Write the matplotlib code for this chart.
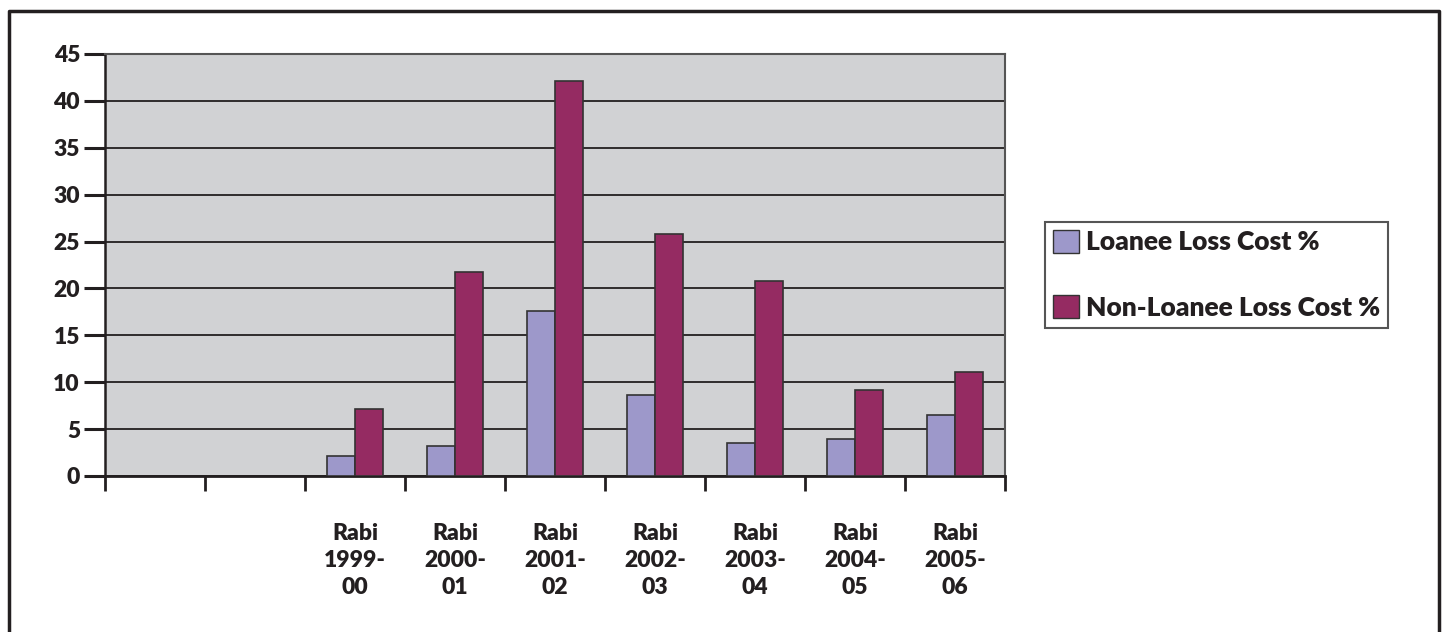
import matplotlib.pyplot as plt
import matplotlib.patches as mpatches
from matplotlib.lines import Line2D
import numpy as np

# seasons (first two slots on the axis are empty)
seasons = ['', '', 'Rabi\n1999-\n00', 'Rabi\n2000-\n01', 'Rabi\n2001-\n02', 'Rabi\n2002-\n03',
           'Rabi\n2003-\n04', 'Rabi\n2004-\n05', 'Rabi\n2005-\n06']
loanee = [np.nan, np.nan, 2.1, 3.2, 17.6, 8.6, 3.5, 3.9, 6.5]
non_loanee = [np.nan, np.nan, 7.1, 21.8, 42.1, 25.8, 20.8, 9.2, 11.1]
y_ticks = [0, 5, 10, 15, 20, 25, 30, 35, 40, 45]

c_loanee = '#9D98CA'
c_non = '#952B62'
txt = '#231F20'
fam = ['Lato', 'DejaVu Sans']
W, H = 1448, 632

fig = plt.figure(figsize=(W / 100, H / 100), dpi=100, facecolor='w')
ax = fig.add_axes([105 / W, 1 - 476 / H, 900 / W, 422 / H])
ax.set_facecolor('#D1D2D4')

x = np.arange(len(seasons))
bw = 0.28
ax.bar(x + 0.5 - bw / 2, loanee, bw, color=c_loanee, edgecolor='#333333', linewidth=1.2, zorder=3)
ax.bar(x + 0.5 + bw / 2, non_loanee, bw, color=c_non, edgecolor='#333333', linewidth=1.2, zorder=3)

ax.set_xlim(0, len(seasons))
ax.set_ylim(0, 45)
ax.set_yticks(y_ticks)
ax.yaxis.grid(True, color=txt, linewidth=1.3, zorder=1)
ax.set_axisbelow(True)

# category boundaries as ticks, labels in the middle
ax.set_xticks(np.arange(len(seasons) + 1))
ax.set_xticklabels([])
ax.set_xticks(x + 0.5, minor=True)
ax.set_xticklabels(seasons, minor=True, fontsize=16.5, fontweight='heavy', family=fam,
                   linespacing=1.35, color=txt)
ax.tick_params(axis='x', which='minor', length=0, pad=34)
ax.tick_params(axis='x', which='major', length=11, width=2, color=txt)
ax.tick_params(axis='y', length=15, width=2.2, color=txt, labelsize=16.5, pad=3,
               labelcolor=txt)
for lab in ax.get_yticklabels():
    lab.set_fontweight('heavy')
    lab.set_family(fam)

for side in ['top', 'right']:
    ax.spines[side].set_color('#555555')
    ax.spines[side].set_linewidth(1.5)
ax.spines['left'].set_color(txt)
ax.spines['left'].set_linewidth(1.8)
ax.spines['bottom'].set_color(txt)
ax.spines['bottom'].set_linewidth(2)

# legend
handles = [mpatches.Patch(facecolor=c_loanee, edgecolor='#333333', label='Loanee Loss Cost %'),
           mpatches.Patch(facecolor=c_non, edgecolor='#333333', label='Non-Loanee Loss Cost %')]
leg = fig.legend(handles=handles, loc='upper left', bbox_to_anchor=(1045 / W, 1 - 222 / H),
                 frameon=True, fancybox=False, edgecolor='#555555', framealpha=1,
                 prop={'size': 19, 'weight': 'heavy', 'family': fam},
                 labelspacing=1.55, handlelength=1.0, handleheight=0.95, handletextpad=0.25,
                 borderpad=0.3, borderaxespad=0)
leg.get_frame().set_linewidth(1.5)
for t in leg.get_texts():
    t.set_color(txt)

# outer frame (open at the bottom)
fig.add_artist(Line2D([9 / W, 9 / W, 1439 / W, 1439 / W], [0, 1 - 11 / H, 1 - 11 / H, 0],
                      transform=fig.transFigure, color=txt, linewidth=2.5))

fig.savefig('out.png', dpi=100, facecolor='w')
